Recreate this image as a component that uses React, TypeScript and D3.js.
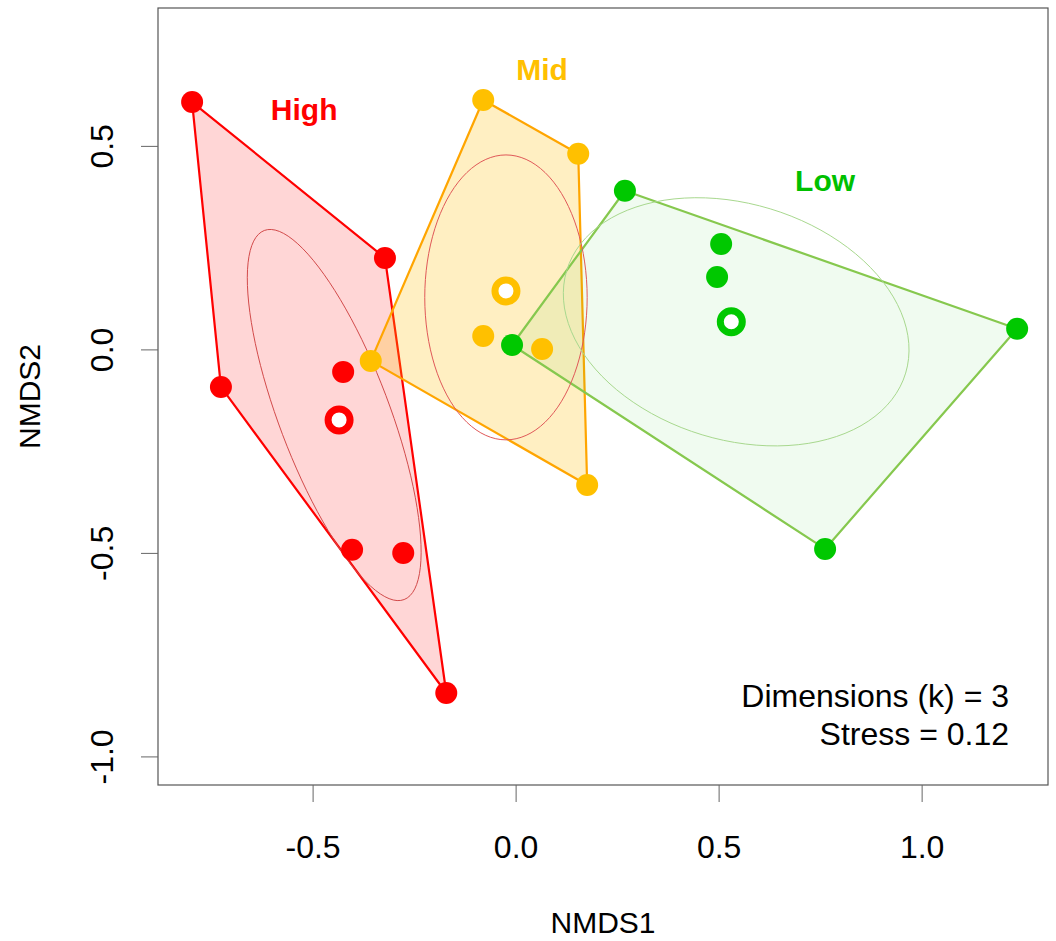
import React from "react";
import * as d3 from "d3";

// NMDS scores (NMDS1, NMDS2)
const highPoints: [number, number][] = [
  [-0.798, 0.609],
  [-0.323, 0.226],
  [-0.727, -0.091],
  [-0.426, -0.054],
  [-0.404, -0.491],
  [-0.278, -0.499],
  [-0.172, -0.843],
];
const midPoints: [number, number][] = [
  [-0.081, 0.614],
  [0.153, 0.482],
  [-0.358, -0.027],
  [-0.081, 0.034],
  [0.064, 0.002],
  [0.175, -0.332],
];
const lowPoints: [number, number][] = [
  [0.268, 0.391],
  [0.505, 0.26],
  [0.495, 0.179],
  [-0.01, 0.012],
  [1.234, 0.052],
  [0.761, -0.489],
];

const groupNames = ["High", "Mid", "Low"];
const centroids: [number, number][] = [
  [-0.436, -0.172],
  [-0.025, 0.145],
  [0.53, 0.069],
];
// ellipse: centre, semi-axes, rotation (degrees, data space)
const ellipseCenters: [number, number][] = [
  [-0.448, -0.16],
  [-0.025, 0.129],
  [0.542, 0.069],
];
const ellipseAxes: [number, number][] = [
  [0.485, 0.136],
  [0.35, 0.2],
  [0.436, 0.29],
];
const ellipseAngles = [-69.2, 90, -16.8];
const labelPositions: [number, number][] = [
  [-0.522, 0.59],
  [0.064, 0.69],
  [0.761, 0.415],
];

const xTicks = [-0.5, 0, 0.5, 1];
const yTicks = [-1, -0.5, 0, 0.5];
const annotation = ["Dimensions (k) = 3", "Stress = 0.12"];

const pointColors = ["#ff0000", "#ffc000", "#00c800"];
const hullStrokes = ["#ff0000", "#ffa500", "#86c84e"];
const hullFills = ["rgba(255,0,0,0.16)", "rgba(255,190,0,0.24)", "rgba(60,210,60,0.08)"];
const ellipseColors = ["#d24a4a", "#e05858", "#a8d88e"];
const labelColors = ["#ff0000", "#ffc000", "#00c000"];

const W = 1056;
const H = 941;
const margin = { left: 158, right: 1048, top: 8, bottom: 785 };
const font = "'Liberation Sans', Arial, Helvetica, sans-serif";

export default function App() {
  const x = d3.scaleLinear().domain([-0.882, 1.31]).range([margin.left, margin.right]);
  const y = d3.scaleLinear().domain([-1.069, 0.84]).range([margin.bottom, margin.top]);

  const groups = [highPoints, midPoints, lowPoints];

  const hulls = groups.map((pts) => {
    const px = pts.map(([a, b]) => [x(a), y(b)] as [number, number]);
    return d3.polygonHull(px) || px;
  });
  const line = d3.line().curve(d3.curveLinearClosed);

  const ellipsePath = (i: number) => {
    const [cx, cy] = ellipseCenters[i];
    const [a, b] = ellipseAxes[i];
    const th = (ellipseAngles[i] * Math.PI) / 180;
    const pts: [number, number][] = d3.range(0, 100).map((k) => {
      const t = (k / 100) * 2 * Math.PI;
      const ex = cx + a * Math.cos(t) * Math.cos(th) - b * Math.sin(t) * Math.sin(th);
      const ey = cy + a * Math.cos(t) * Math.sin(th) + b * Math.sin(t) * Math.cos(th);
      return [x(ex), y(ey)];
    });
    return line(pts) || "";
  };

  return (
    <svg
      width={W}
      height={H}
      style={{ position: "absolute", left: 0, top: 0, background: "#fff" }}
      fontFamily={font}
    >
      {/* hulls */}
      {hulls.map((h, i) => (
        <path
          key={"hull" + i}
          d={line(h) || ""}
          fill={hullFills[i]}
          stroke={hullStrokes[i]}
          strokeWidth={2.2}
          strokeLinejoin="round"
        />
      ))}
      {/* ellipses */}
      {groupNames.map((g, i) => (
        <path key={"ell" + g} d={ellipsePath(i)} fill="none" stroke={ellipseColors[i]} strokeWidth={1} />
      ))}
      {/* points */}
      {groups.map((pts, i) =>
        pts.map(([a, b], j) => (
          <circle key={`p${i}-${j}`} cx={x(a)} cy={y(b)} r={11} fill={pointColors[i]} />
        ))
      )}
      {/* centroids */}
      {centroids.map(([a, b], i) => (
        <circle
          key={"c" + i}
          cx={x(a)}
          cy={y(b)}
          r={11}
          fill="#fff"
          stroke={pointColors[i]}
          strokeWidth={7}
        />
      ))}
      {/* group labels */}
      {groupNames.map((g, i) => (
        <text
          key={"lab" + g}
          x={x(labelPositions[i][0])}
          y={y(labelPositions[i][1])}
          fill={labelColors[i]}
          fontSize={30}
          fontWeight="bold"
          textAnchor="middle"
          dominantBaseline="central"
        >
          {g}
        </text>
      ))}

      {/* frame */}
      <rect
        x={margin.left}
        y={margin.top}
        width={margin.right - margin.left}
        height={margin.bottom - margin.top}
        fill="none"
        stroke="#555"
        strokeWidth={1.2}
      />
      {/* x axis */}
      {xTicks.map((t) => (
        <g key={"xt" + t}>
          <line x1={x(t)} x2={x(t)} y1={margin.bottom} y2={margin.bottom + 17} stroke="#666" strokeWidth={1} />
          <text x={x(t)} y={858} fontSize={32} textAnchor="middle" fill="#000">
            {d3.format(".1f")(t).replace("−", "-")}
          </text>
        </g>
      ))}
      {/* y axis */}
      {yTicks.map((t) => (
        <g key={"yt" + t}>
          <line x1={margin.left - 17} x2={margin.left} y1={y(t)} y2={y(t)} stroke="#666" strokeWidth={1} />
          <text
            transform={`translate(113,${y(t)}) rotate(-90)`}
            fontSize={32}
            textAnchor="middle"
            fill="#000"
          >
            {d3.format(".1f")(t).replace("−", "-")}
          </text>
        </g>
      ))}
      <text x={(margin.left + margin.right) / 2} y={933} fontSize={30} textAnchor="middle" fill="#000">
        NMDS1
      </text>
      <text
        transform={`translate(40,${(margin.top + margin.bottom) / 2}) rotate(-90)`}
        fontSize={30}
        textAnchor="middle"
        fill="#000"
      >
        NMDS2
      </text>

      {/* annotation */}
      {annotation.map((s, i) => (
        <text key={"ann" + i} x={1009} y={707 + i * 38} fontSize={32} textAnchor="end" fill="#000">
          {s}
        </text>
      ))}
    </svg>
  );
}
